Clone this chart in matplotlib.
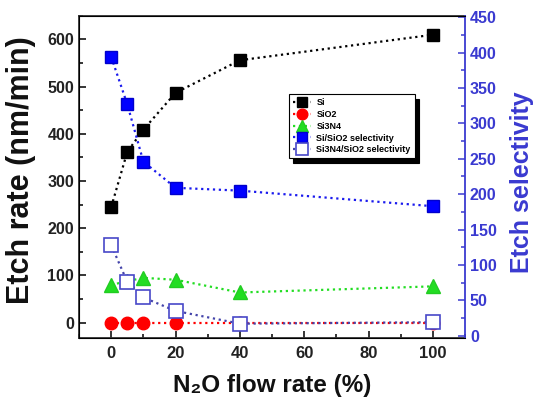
import matplotlib
matplotlib.use('Agg')
import matplotlib.pyplot as plt
from matplotlib.ticker import MultipleLocator

plt.rcParams['font.family'] = ['Liberation Sans', 'DejaVu Sans']
plt.rcParams['font.weight'] = 'bold'

# data
flow = [0, 5, 10, 20, 40, 100]
si = [245, 362, 409, 487, 556, 610]
sio2 = [0, 0, 0, 0, 0, 0]
sin = [80, 88, 95, 91, 64, 77]
si_sel = [394, 327, 246, 209, 205, 183]
sin_sel = [128, 76, 54, 35, 17, 19]

axblue = '#3a3ad0'

fig = plt.figure(figsize=(5.34, 4.07), dpi=100)
ax = fig.add_axes([0.148, 0.17, 0.723, 0.791])
ax2 = ax.twinx()

ax.plot(flow, si, ':', color='black', lw=1.6, marker='s', ms=8.5, label='Si')
ax.plot(flow, sio2, ':', color='red', lw=1.6, marker='o', ms=9, label='SiO2')
ax.plot(flow, sin, ':', color='#22dd22', lw=1.6, marker='^', ms=9.5,
        mec='#22cc22', mfc='#22dd22', label='Si3N4')
ax2.plot(flow, si_sel, ':', color='#1a1aee', lw=1.6, marker='s', ms=8.5,
         mfc='#0000ff', mec='#0000cc', label='Si/SiO2 selectivity')
ax2.plot(flow, sin_sel, ':', color='#4444aa', lw=1.6, marker='s', ms=9.5,
         mfc='white', mec='#4848c8', mew=1.2, label='Si3N4/SiO2 selectivity')

ax.set_xlim(-10, 110)
ax.set_ylim(-32, 650)
ax2.set_ylim(-3, 452)

ax.xaxis.set_major_locator(MultipleLocator(20))
ax.xaxis.set_minor_locator(MultipleLocator(10))
ax.yaxis.set_major_locator(MultipleLocator(100))
ax.yaxis.set_minor_locator(MultipleLocator(50))
ax2.yaxis.set_major_locator(MultipleLocator(50))
ax2.yaxis.set_minor_locator(MultipleLocator(25))

ax.tick_params(which='both', direction='in', labelsize=11.5, width=1.1, labelcolor='#222222')
ax.tick_params(which='major', length=5)
ax.tick_params(which='minor', length=3)
ax.tick_params(axis='x', pad=6, labelsize=12)
ax2.tick_params(which='both', direction='in', labelsize=11.5, colors=axblue, width=1.1)
ax2.tick_params(which='major', length=5)
ax2.tick_params(which='minor', length=3)

for s in ['left', 'bottom', 'top']:
    ax.spines[s].set_linewidth(1.3)
    ax.spines[s].set_color('#333333')
ax2.spines['right'].set_color(axblue)
ax2.spines['right'].set_linewidth(1.3)
ax.spines['right'].set_visible(False)

ax.set_ylabel('Etch rate (nm/min)', fontsize=22, fontweight='bold', color='#111111')
ax.yaxis.set_label_coords(-0.112, 0.52)
ax.set_xlabel('N\u2082O flow rate (%)', fontsize=17.5, fontweight='bold', labelpad=9,
              color='#111111')
ax2.set_ylabel('Etch selectivity', fontsize=18, fontweight='bold', color=axblue)
ax2.yaxis.set_label_coords(1.117, 0.483)

h1, l1 = ax.get_legend_handles_labels()
h2, l2 = ax2.get_legend_handles_labels()
leg = ax2.legend(h1 + h2, l1 + l2, loc='upper left', bbox_to_anchor=(0.532, 0.77),
                 fontsize=6.5, markerscale=0.85, handlelength=2.0, handletextpad=0.6,
                 labelspacing=0.3, borderpad=0.45, fancybox=False, framealpha=1,
                 edgecolor='black',
                 shadow={'color': 'black', 'alpha': 1, 'ox': 3.2, 'oy': -3})
leg.get_frame().set_linewidth(0.8)

fig.savefig('out.png', dpi=100)
